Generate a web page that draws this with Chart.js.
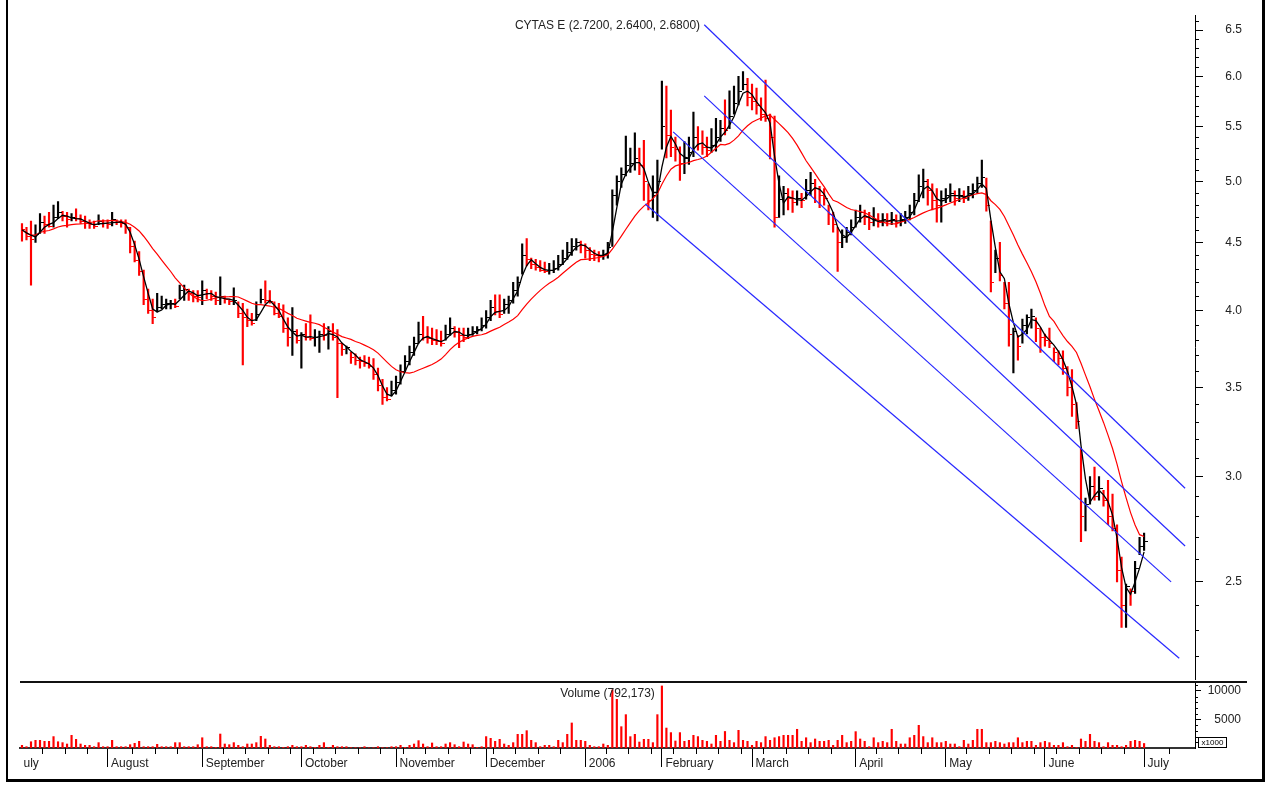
<!DOCTYPE html>
<html>
<head>
<meta charset="utf-8">
<script src="https://cdn.jsdelivr.net/npm/chart.js@4.4.1/dist/chart.umd.min.js"></script>
<style>
  body { margin: 0; background: #fff; width: 1279px; height: 785px; overflow: hidden; position: relative; font-family: 'Liberation Sans', Arial, sans-serif; }
  canvas { position: absolute; left: 0; }
  #price { top: -14px; }
  #volume { top: 667px; }
  .label { position: absolute; left: 20px; width: 1175px; text-align: center; font-size: 12px; line-height: 14px; color: #222; white-space: nowrap; }
  #sep { position: absolute; left: 20px; top: 681px; width: 1227px; height: 2px; background: #111; }
  #unit { position: absolute; left: 1198px; top: 737px; width: 29px; height: 11px; box-sizing: border-box; border: 1px solid #000; font-size: 8px; line-height: 9px; text-align: center; color: #000; }
  #frame { position: absolute; left: 6px; top: -5px; width: 1259px; height: 787px; box-sizing: border-box; border-left: 2px solid #000; border-right: 3px solid #000; border-bottom: 3px solid #000; pointer-events: none; }
</style>
</head>
<body>
<canvas id="price" width="1279" height="723"></canvas>
<canvas id="volume" width="1279" height="118"></canvas>
<div class="label" style="top:18px">CYTAS E (2.7200, 2.6400, 2.6800)</div>
<div class="label" style="top:686px">Volume (792,173)</div>
<div id="sep"></div>
<div id="unit">x1000</div>
<div id="frame"></div>
<script>
// trading days, Jul 2005 - Jul 2006 (one value per session)
const monthLabels = ['uly', 'August', 'September', 'October', 'November', 'December', '2006', 'February', 'March', 'April', 'May', 'June', 'July'];
const monthStarts = [-0.44, 19, 40, 62, 83, 103, 125, 142, 162, 185, 205, 227, 249];

const highs = [
  4.65,4.62,4.67,4.64,4.73,4.71,4.74,4.80,4.83,4.75,4.74,4.73,4.77,4.72,4.71,4.68,4.67,4.72,4.68,
  4.68,4.74,4.68,4.68,4.68,4.62,4.51,4.43,4.29,4.15,4.08,4.12,4.10,4.08,4.07,4.08,4.18,4.18,4.15,4.14,4.14,
  4.21,4.15,4.14,4.13,4.24,4.10,4.08,4.16,4.06,4.05,4.01,3.98,4.06,4.15,4.21,4.14,4.06,4.05,4.04,3.95,4.02,3.87,
  3.85,3.91,3.97,3.87,3.86,3.91,3.89,3.91,3.87,3.78,3.76,3.72,3.71,3.69,3.70,3.69,3.68,3.62,3.55,3.50,3.54,
  3.57,3.64,3.70,3.76,3.82,3.92,3.96,3.89,3.88,3.87,3.86,3.90,3.95,3.89,3.88,3.88,3.88,3.89,3.89,3.95,
  4.00,4.07,4.11,4.11,4.08,4.10,4.20,4.24,4.49,4.53,4.38,4.37,4.36,4.35,4.34,4.36,4.40,4.44,4.50,4.53,4.53,4.51,
  4.49,4.46,4.44,4.43,4.44,4.50,4.93,5.05,5.12,5.41,5.30,5.44,5.30,5.37,4.98,5.05,5.19,
  5.95,5.90,5.66,5.40,5.31,5.36,5.40,5.64,5.50,5.46,5.40,5.48,5.58,5.56,5.76,5.85,5.90,6.00,6.05,5.98,
  5.92,5.88,5.78,5.96,5.62,5.60,5.05,4.96,4.94,4.92,4.92,4.90,5.02,5.08,5.02,4.96,4.94,4.80,4.74,4.62,4.60,4.62,4.68,
  4.76,4.80,4.76,4.74,4.78,4.73,4.73,4.73,4.74,4.72,4.73,4.75,4.80,4.90,5.06,5.11,5.02,4.98,4.94,4.92,
  4.94,4.98,4.92,4.94,4.92,4.96,4.98,5.04,5.19,5.03,4.67,4.44,4.50,4.20,4.20,3.88,3.83,3.94,3.97,4.01,3.95,3.88,
  3.84,3.88,3.75,3.73,3.73,3.63,3.61,3.41,3.15,2.89,3.00,3.05,3.00,2.93,2.98,2.91,2.76,2.61,2.49,2.47,2.59,2.70,
  2.72
];
const lows = [
  4.51,4.52,4.18,4.50,4.57,4.57,4.62,4.62,4.69,4.67,4.62,4.67,4.67,4.65,4.61,4.61,4.61,4.64,4.62,
  4.61,4.63,4.64,4.62,4.57,4.42,4.35,4.25,4.04,3.98,3.91,3.99,4.01,4.01,4.01,4.02,4.08,4.07,4.07,4.06,4.06,
  4.04,4.08,4.07,4.04,4.04,4.05,4.04,4.04,3.95,3.64,3.89,3.90,3.93,4.05,4.05,4.05,3.97,3.95,3.85,3.76,3.70,3.78,
  3.62,3.80,3.80,3.76,3.72,3.80,3.74,3.80,3.44,3.70,3.71,3.65,3.64,3.62,3.63,3.62,3.55,3.48,3.40,3.42,3.45,
  3.46,3.52,3.60,3.64,3.70,3.78,3.80,3.78,3.77,3.77,3.76,3.80,3.83,3.82,3.75,3.79,3.81,3.83,3.84,3.86,
  3.88,3.93,3.97,3.95,3.98,3.98,4.05,4.10,4.26,4.32,4.30,4.29,4.28,4.27,4.26,4.27,4.29,4.33,4.37,4.40,4.44,4.42,
  4.38,4.36,4.36,4.35,4.37,4.38,4.47,4.80,4.95,5.05,5.08,5.10,5.06,4.84,4.76,4.70,4.67,
  5.29,5.21,5.22,5.18,5.01,5.07,5.15,5.22,5.28,5.24,5.22,5.26,5.27,5.36,5.42,5.48,5.62,5.71,5.86,5.70,
  5.66,5.62,5.56,5.55,5.20,4.62,4.70,4.72,4.76,4.74,4.80,4.78,4.85,4.88,4.82,4.78,4.80,4.64,4.58,4.28,4.46,4.50,4.56,
  4.62,4.66,4.64,4.60,4.63,4.62,4.63,4.63,4.64,4.62,4.63,4.65,4.68,4.72,4.83,4.86,4.80,4.76,4.66,4.66,
  4.82,4.83,4.80,4.83,4.82,4.84,4.86,4.90,4.95,4.75,4.13,4.27,4.21,4.01,3.76,3.59,3.67,3.78,3.84,3.88,3.79,3.72,
  3.76,3.75,3.66,3.64,3.58,3.45,3.33,3.26,2.68,2.73,2.86,2.88,2.88,2.85,2.76,2.73,2.50,2.31,2.31,2.40,2.45,2.62,
  2.64
];
const closes = [
  4.60,4.55,4.52,4.56,4.66,4.64,4.63,4.70,4.74,4.71,4.68,4.70,4.69,4.67,4.65,4.64,4.63,4.67,4.65,
  4.64,4.68,4.66,4.65,4.62,4.47,4.36,4.28,4.08,4.00,3.95,4.02,4.04,4.05,4.05,4.03,4.14,4.15,4.12,4.10,4.09,
  4.14,4.12,4.10,4.07,4.10,4.08,4.06,4.07,3.98,3.95,3.93,3.91,3.97,4.08,4.07,4.06,3.98,3.96,3.88,3.82,3.86,3.80,
  3.84,3.82,3.81,3.82,3.84,3.83,3.86,3.82,3.78,3.74,3.75,3.69,3.67,3.66,3.65,3.63,3.58,3.51,3.44,3.43,3.48,
  3.53,3.60,3.66,3.72,3.78,3.84,3.82,3.81,3.80,3.79,3.78,3.84,3.88,3.85,3.83,3.82,3.84,3.86,3.87,3.90,
  3.95,4.02,3.99,3.97,4.04,4.07,4.14,4.20,4.40,4.37,4.33,4.31,4.29,4.28,4.29,4.30,4.33,4.38,4.42,4.47,4.50,4.48,
  4.44,4.41,4.40,4.39,4.41,4.46,4.88,5.00,5.06,5.14,5.16,5.20,5.14,5.00,4.84,4.88,5.00,
  5.50,5.42,5.30,5.29,5.16,5.20,5.26,5.40,5.34,5.30,5.28,5.32,5.40,5.48,5.46,5.60,5.72,5.84,5.92,5.78,
  5.74,5.70,5.62,5.58,5.40,4.70,4.85,4.90,4.86,4.82,4.86,4.84,4.92,4.98,4.94,4.88,4.86,4.72,4.64,4.50,4.54,4.58,4.62,
  4.70,4.74,4.70,4.66,4.68,4.66,4.68,4.67,4.68,4.66,4.68,4.70,4.74,4.84,4.96,5.00,4.92,4.84,4.80,4.86,
  4.88,4.90,4.86,4.88,4.86,4.90,4.92,4.98,5.04,4.80,4.20,4.38,4.25,4.05,3.84,3.86,3.76,3.90,3.95,3.96,3.88,3.82,
  3.80,3.78,3.72,3.68,3.62,3.50,3.40,3.30,2.80,2.86,2.95,2.90,2.94,2.88,2.80,2.74,2.55,2.40,2.48,2.46,2.56,2.66,
  2.68
];
// volume in thousands
const volumes = [
  470,230,1100,1350,1350,1170,1170,2000,1100,940,700,2220,1520,700,470,470,230,940,230,
  230,1350,230,230,230,580,820,1170,230,230,230,640,230,230,230,940,940,230,230,230,580,
  1800,230,230,120,2450,700,580,940,470,230,700,700,940,2050,1580,470,230,230,120,230,470,230,
  230,470,230,120,470,940,120,470,230,230,230,60,60,60,230,30,60,230,60,60,230,
  230,470,120,470,700,1290,700,230,880,230,230,700,940,580,230,1050,700,580,120,230,
  2000,1700,1170,1520,700,470,940,2400,2400,3040,1350,940,230,470,470,230,1350,940,2400,4390,1350,1350,
  1170,470,230,230,700,470,10180,8540,3740,5850,1990,2400,1050,1520,1520,940,5850,
  10880,3500,2700,1230,2700,1170,1350,2220,2000,1350,1170,700,2220,1170,2900,1350,940,3100,1350,1170,
  470,1170,940,2000,1350,1800,2000,2220,2220,2220,3280,1170,1800,940,1580,1170,1170,1350,470,1350,2220,940,1170,
  2870,1580,1170,230,1800,940,1170,940,3280,1170,700,700,1800,2220,3980,2000,940,1800,940,940,
  1170,700,700,230,1350,700,1350,3280,3280,940,940,1170,940,700,940,940,1800,940,1170,1170,470,940,
  1170,940,470,470,940,230,470,120,1580,1170,2400,1170,940,230,940,470,470,230,470,1170,1350,1170,
  792
];
// channel lines: [start session, start price, end session, end price]
const channels = [
  [151.4, 6.56, 258.1, 2.94],
  [151.4, 5.80, 258.1, 2.66],
  [144.5, 5.45, 255.0, 2.50],
  [138.3, 4.81, 256.8, 2.19]
];
const priceTicks = [2.5, 3.0, 3.5, 4.0, 4.5, 5.0, 5.5, 6.0, 6.5];
const volumeTicks = [5000, 10000];

const xMin = -0.44, xMax = 260.3;
const font = { family: "'Liberation Sans', Arial, sans-serif", size: 12 };
const textColor = '#222';

function sma(values, n) {
  return values.map((v, i) => {
    const win = values.slice(Math.max(0, i - n + 1), i + 1);
    return win.reduce((s, x) => s + x, 0) / win.length;
  });
}

function tickImage(color) {
  const c = document.createElement('canvas');
  c.width = 7; c.height = 1;
  const g = c.getContext('2d');
  g.fillStyle = color;
  g.fillRect(4, 0, 3, 1);
  return c;
}

// short tick marks that the axes do not draw themselves
const minorTicks = {
  id: 'minorTicks',
  afterDraw(chart, args, opts) {
    const { ctx, chartArea } = chart;
    ctx.save();
    ctx.strokeStyle = '#000';
    ctx.lineWidth = 1;
    ctx.beginPath();
    (opts.y || []).forEach(v => {
      const y = Math.round(chart.scales.y.getPixelForValue(v)) + 0.5;
      ctx.moveTo(chartArea.right, y);
      ctx.lineTo(chartArea.right + opts.yLen, y);
    });
    (opts.x || []).forEach(v => {
      const x = Math.round(chart.scales.x.getPixelForValue(v)) + 0.5;
      ctx.moveTo(x, chartArea.bottom);
      ctx.lineTo(x, chartArea.bottom + opts.xLen);
    });
    ctx.stroke();
    ctx.restore();
  }
};

const idx = closes.map((_, i) => i);
const barColors = closes.map((c, i) => (i > 0 && c >= closes[i - 1] ? '#000000' : '#ff0000'));
const tickBlack = tickImage('#000000');
const tickRed = tickImage('#ff0000');
const fastMA = sma(closes, 3);
const slowMA = sma(closes, 14);

const priceMinor = [];
for (let k = 22; k <= 66; k++) if (k % 5 !== 0) priceMinor.push(k / 10);
const volumeMinor = [1000, 2000, 3000, 4000, 6000, 7000, 8000, 9000, 11000];
const weekMinor = [];
for (let v = 4.5; v < 259; v += 5) {
  if (!monthStarts.some(m => Math.abs(m - v) < 1.5)) weekMinor.push(v);
}

const common = {
  responsive: false,
  animation: false,
  devicePixelRatio: 1,
  events: [],
};

new Chart(document.getElementById('price'), {
  type: 'bar',
  data: {
    datasets: [
      {
        type: 'bar',
        data: idx.map(i => ({ x: i, y: [lows[i], highs[i]] })),
        backgroundColor: barColors,
        barThickness: 1.5,
        borderWidth: 0,
        grouped: false,
        order: 6,
      },
      {
        type: 'line',
        data: idx.map(i => ({ x: i, y: closes[i] })),
        showLine: false,
        pointStyle: barColors.map(c => (c === '#000000' ? tickBlack : tickRed)),
        pointRadius: 2,
        order: 5,
      },
      {
        type: 'line',
        data: idx.map(i => ({ x: i, y: slowMA[i] })),
        borderColor: '#ff0000',
        borderWidth: 1.2,
        pointRadius: 0,
        order: 4,
      },
      {
        type: 'line',
        data: idx.map(i => ({ x: i, y: fastMA[i] })),
        borderColor: '#000000',
        borderWidth: 1.3,
        pointRadius: 0,
        order: 3,
      },
      ...channels.map(c => ({
        type: 'line',
        data: [{ x: c[0], y: c[1] }, { x: c[2], y: c[3] }],
        borderColor: '#2828ff',
        borderWidth: 1.2,
        pointRadius: 0,
        order: 1,
      })),
    ]
  },
  options: {
    ...common,
    layout: { padding: { left: 20, right: 37, top: 29, bottom: 29 } },
    scales: {
      x: { type: 'linear', display: false, min: xMin, max: xMax, offset: false, bounds: 'data', grid: { offset: false } },
      y: {
        type: 'logarithmic',
        position: 'right',
        min: 2.11,
        max: 6.67,
        bounds: 'data',
        beginAtZero: false,
        afterBuildTicks: s => { s.ticks = priceTicks.map(v => ({ value: v })); },
        afterFit: s => { s.width = 47; },
        ticks: { callback: v => Number(v).toFixed(1), font, color: textColor, padding: 22, crossAlign: 'far', autoSkip: false },
        grid: { drawOnChartArea: false, tickLength: 8, tickColor: '#000' },
        border: { display: true, color: '#000', width: 1 },
      }
    },
    plugins: {
      legend: { display: false },
      tooltip: { enabled: false },
      minorTicks: { y: priceMinor, yLen: 4 },
    }
  },
  plugins: [minorTicks]
});

new Chart(document.getElementById('volume'), {
  type: 'bar',
  data: {
    datasets: [{
      type: 'bar',
      data: idx.map(i => ({ x: i, y: volumes[i] })),
      backgroundColor: '#ff0000',
      barThickness: 1.5,
      borderWidth: 0,
      grouped: false,
    }]
  },
  options: {
    ...common,
    layout: { padding: { left: 20, right: 38, top: 16, bottom: 7 } },
    scales: {
      x: {
        type: 'linear',
        min: xMin,
        max: xMax,
        offset: false,
        bounds: 'data',
        afterBuildTicks: s => { s.ticks = monthStarts.map(v => ({ value: v })); },
        afterFit: s => { s.height = 30; },
        ticks: {
          callback: (v, i) => monthLabels[i],
          autoSkip: false, maxRotation: 0, minRotation: 0,
          align: 'start', labelOffset: 3.5, padding: -11,
          font, color: textColor,
        },
        grid: {
          drawOnChartArea: false, offset: false, tickLength: 19,
          tickColor: c => (c.index === 0 ? 'rgba(0,0,0,0)' : '#000'),
        },
        border: { display: true, color: '#333', width: 2 },
      },
      y: {
        type: 'linear',
        position: 'right',
        min: 0,
        max: 11400,
        bounds: 'data',
        beginAtZero: true,
        afterBuildTicks: s => { s.ticks = volumeTicks.map(v => ({ value: v })); },
        afterFit: s => { s.width = 46; },
        ticks: { callback: v => String(v), font, color: textColor, padding: 7, crossAlign: 'far', autoSkip: false },
        grid: { drawOnChartArea: false, tickLength: 6, tickColor: '#000' },
        border: { display: true, color: '#000', width: 1 },
      }
    },
    plugins: {
      legend: { display: false },
      tooltip: { enabled: false },
      minorTicks: { y: volumeMinor, yLen: 3, x: weekMinor, xLen: 6 },
    }
  },
  plugins: [minorTicks]
});
</script>
</body>
</html>
